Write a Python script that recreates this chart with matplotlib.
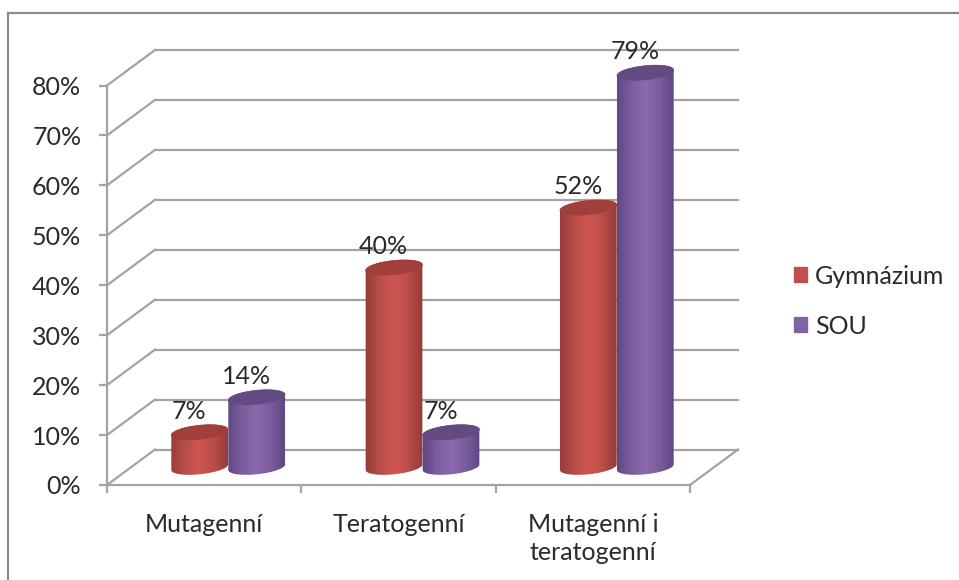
import numpy as np
import matplotlib
matplotlib.use("Agg")
import matplotlib.pyplot as plt
from matplotlib.colors import LinearSegmentedColormap
from matplotlib.lines import Line2D
from matplotlib.patches import Patch, PathPatch
from matplotlib.path import Path

categories = ["Mutagenní", "Teratogenní", "Mutagenní i\nteratogenní"]
series_names = ["Gymnázium", "SOU"]
gymnazium = [7, 40, 52]
sou = [14, 7, 79]
y_ticks = [0, 10, 20, 30, 40, 50, 60, 70, 80]

W, H = 959, 580
plt.rcParams["font.family"] = ["Lato", "DejaVu Sans"]
FS = 18
TXT = "#2a2a2a"
GRID = "#a3a3a3"

fig = plt.figure(figsize=(W / 100, H / 100), dpi=100, facecolor="white")
L, R, B, T = 107, 690, 485, 85.5
ax = fig.add_axes([L / W, 1 - B / H, (R - L) / W, (B - T) / H])
ax.set_autoscale_on(False)
ax.set_xlim(0, 3)
ax.set_ylim(0, 80)
ax.patch.set_alpha(0)
PX = (R - L) / 3
PY = (B - T) / 80
DX, DY = 48 / PX, 35.5 / PY   # depth of the 3-D box

# outer frame
for xs, ys in [((8, 8), (0, H - 13)), ((8, W), (H - 13, H - 13))]:
    fig.add_artist(Line2D(np.array(xs) / W, np.array(ys) / H, color="#8c8c8c", lw=1.6))

# walls
LW = 1.6
for v in y_ticks:
    ax.plot([0, DX], [v, v + DY], color=GRID, lw=LW, clip_on=False, zorder=1)
    ax.plot([DX, 3 + DX], [v + DY, v + DY], color=GRID, lw=LW, clip_on=False, zorder=1)
ax.plot([3, 3 + DX], [0, DY], color=GRID, lw=LW, clip_on=False, zorder=1)

# axes
for s in ["top", "right"]:
    ax.spines[s].set_visible(False)
for s in ["left", "bottom"]:
    ax.spines[s].set_color(GRID)
    ax.spines[s].set_linewidth(LW)
ax.set_yticks(y_ticks)
ax.set_yticklabels([f"{v}%" for v in y_ticks], fontsize=FS, color=TXT)
ax.set_xticks([0, 1, 2, 3])
ax.set_xticklabels([])
ax.set_xticks([0.5, 1.5, 2.5], minor=True)
ax.set_xticklabels(categories, minor=True, fontsize=FS, color=TXT, linespacing=1.27)
ax.tick_params(axis="y", length=6, width=LW, color=GRID, pad=12.5)
ax.tick_params(axis="x", which="major", length=6, width=LW, color=GRID)
ax.tick_params(axis="x", which="minor", length=0, pad=20)

# cylinders
A, Bb, TILT = 28.5, 7.0, np.deg2rad(6)
BAR_W = 57 / PX
def ell(cx, cy, t):
    x = A * np.cos(t) * np.cos(TILT) - Bb * np.sin(t) * np.sin(TILT)
    y = A * np.cos(t) * np.sin(TILT) + Bb * np.sin(t) * np.cos(TILT)
    return np.column_stack([cx + x / PX, cy + y / PY])

T0 = np.arctan2(-Bb * np.sin(TILT), A * np.cos(TILT))

def cylinder(xc, value, cmap, top_color):
    cx, y0 = xc + DX / 2, DY / 2
    y1 = value + DY / 2
    t_low = np.linspace(T0, T0 - np.pi, 60)
    t_up = np.linspace(T0 + np.pi, T0, 60)
    body = np.vstack([ell(cx, y0, t_low), ell(cx, y1, t_up)])
    patch = PathPatch(Path(np.vstack([body, body[:1]])), fc="none", ec="none",
                      transform=ax.transData)
    ax.add_patch(patch)
    grad = np.linspace(0, 1, 256).reshape(1, -1)
    hw = A / PX + 0.005
    im = ax.imshow(grad, cmap=cmap, aspect="auto", zorder=3,
                   extent=[cx - hw, cx + hw, y0 - 3, y1 + 3], interpolation="bilinear")
    im.set_clip_box(fig.bbox)
    im.set_clip_path(patch)
    top = ell(cx, y1, np.linspace(0, 2 * np.pi, 120))
    ax.fill(top[:, 0], top[:, 1], color=top_color, lw=0.5, zorder=3, clip_on=False)
    ax.annotate(f"{value}%", (cx, y1), xytext=(-7.5, 15), textcoords="offset points",
                ha="center", va="center", fontsize=FS, color=TXT,
                zorder=5, annotation_clip=False)

cm_red = LinearSegmentedColormap.from_list("r", ["#953c3a", "#b84d49", "#cf5651", "#b94d49", "#913a38"])
cm_pur = LinearSegmentedColormap.from_list("p", ["#5e4680", "#7a5d9e", "#8b6aae", "#795c9d", "#5c4580"])
C_RED, C_PUR = "#a03f3c", "#644a82"

for i in range(len(categories)):
    cylinder(i + 0.5 - BAR_W / 2, gymnazium[i], cm_red, C_RED)
    # keep the SOU bar in front of its neighbour
    cylinder(i + 0.5 + BAR_W / 2, sou[i], cm_pur, C_PUR)

# legend
handles = [Patch(color="#c0504d"), Patch(color="#8064a2")]
fig.legend(handles, series_names, loc="center left", bbox_to_anchor=(794 / W, 1 - 301 / H),
           frameon=False, fontsize=FS, labelcolor=TXT, handlelength=0.52, handleheight=0.55,
           handletextpad=0.32, labelspacing=1.08, borderpad=0, borderaxespad=0)

fig.savefig("out.png", dpi=100, facecolor="white")
